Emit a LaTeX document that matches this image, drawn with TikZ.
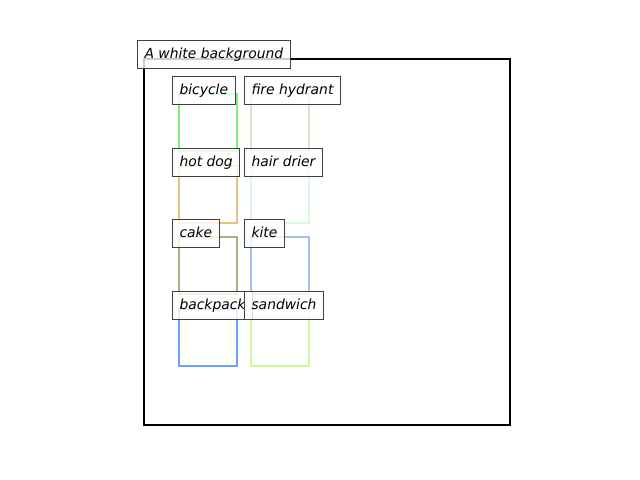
\documentclass[tikz,border=0pt]{standalone}
\usepackage{fontspec}
\setmainfont{DejaVu Sans}
\usetikzlibrary{positioning, calc}
\definecolor{cbicycle}{HTML}{7FEE7F}
\definecolor{chydrant}{HTML}{D6E6C6}
\definecolor{chotdog}{HTML}{F0C080}
\definecolor{cdrier}{HTML}{DCF9DC}
\definecolor{ccake}{HTML}{A5B577}
\definecolor{ckite}{HTML}{A2C2EA}
\definecolor{cbackpack}{HTML}{6EA0F6}
\definecolor{csandwich}{HTML}{D2F5A2}
\tikzstyle{bbox}=[line width=1.44pt]
\tikzstyle{lbl}=[draw=black!75,line width=0.72pt,fill=white,fill opacity=0.8,text opacity=1,
  anchor=north west,font=\itshape,inner xsep=5.04pt,inner ysep=5.08pt,
  text height=7.6pt,text depth=2.4pt]
% box of 58 x 57 from its top left corner
\newcommand{\objbox}[3]{\draw[bbox,#1] (#2,#3) rectangle ++(58,57);}
% label above the top left corner of a box
\newcommand{\objlbl}[4]{\node[lbl] (#1) at ($(#2,#3)+(-7,-18)$) {#4};}

\begin{document}
\begin{tikzpicture}[x=0.72pt, y=-0.72pt]
    \useasboundingbox (0,0) rectangle (640,480);
    \draw[line width=1.44pt] (144,59) rectangle (510,425);
    \objbox{cbicycle}{179}{94}
    \objbox{chydrant}{251}{94}
    \objbox{chotdog}{179}{166}
    \objbox{cdrier}{251}{166}
    \objbox{ccake}{179}{237}
    \objbox{ckite}{251}{237}
    \objbox{cbackpack}{179}{309}
    \objbox{csandwich}{251}{309}
    \node[lbl] (bg) at (137,40) {A white background};
    \objlbl{bicycle}{179}{94}{bicycle}
    \objlbl{hydrant}{251}{94}{fire hydrant}
    \objlbl{hotdog}{179}{166}{hot dog}
    \objlbl{drier}{251}{166}{hair drier}
    \objlbl{cake}{179}{237}{cake}
    \objlbl{kite}{251}{237}{kite}
    \objlbl{backpack}{179}{309}{backpack}
    \objlbl{sandwich}{251}{309}{sandwich}
\end{tikzpicture}
\end{document}
